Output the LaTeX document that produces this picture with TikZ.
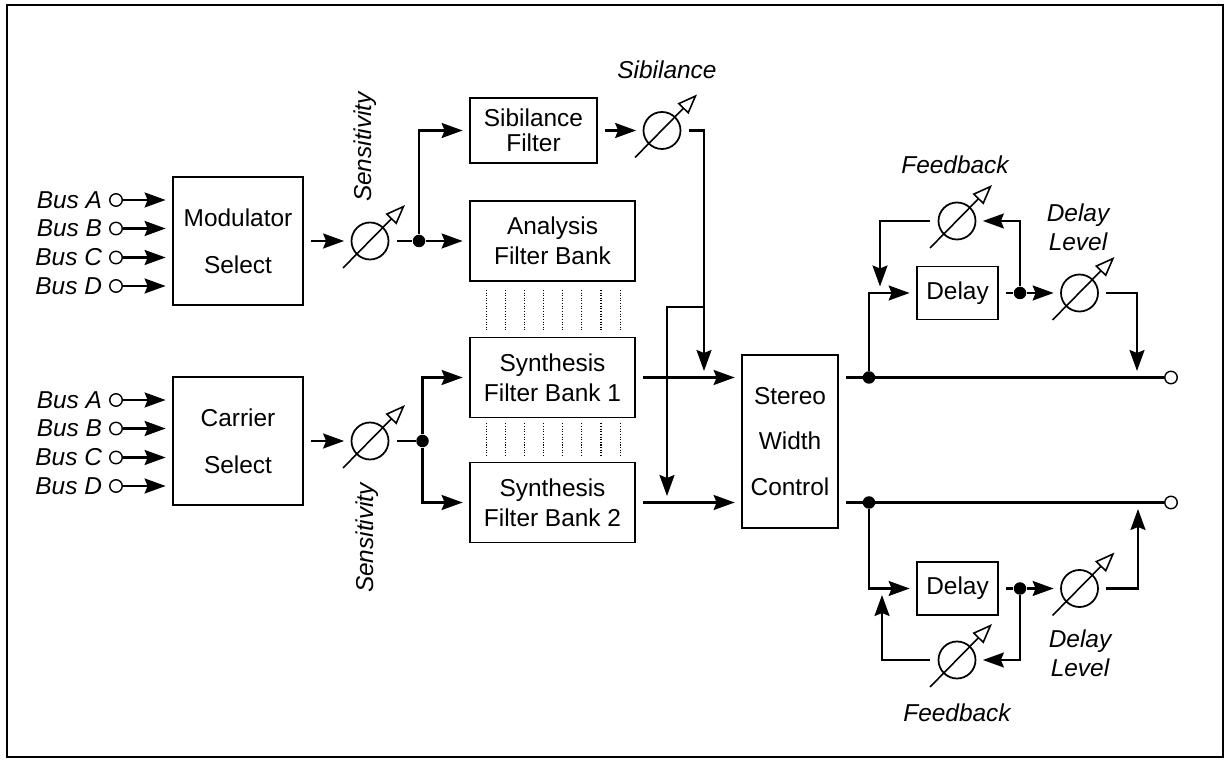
\documentclass[tikz,border=0pt]{standalone}
\usepackage{fontspec}
\setmainfont{Liberation Sans}
\usepackage{tikz}
\usetikzlibrary{positioning,arrows.meta,calc}

\begin{document}
\begin{tikzpicture}[
    sel/.style={
        draw,
        line width=1pt,
        minimum width=2.6cm,
        minimum height=2.56cm,
        inner sep=0pt,
        align=center,
        font=\fontsize{13.9}{27}\selectfont
    },
    bank/.style={
        draw,
        line width=1pt,
        minimum width=3.3cm,
        minimum height=1.6cm,
        inner sep=0pt,
        align=center,
        font=\fontsize{13.9}{17}\selectfont
    },
    sibbox/.style={
        draw,
        line width=1pt,
        minimum width=2.54cm,
        minimum height=1.3cm,
        inner sep=0pt,
        align=center,
        font=\fontsize{13.9}{14}\selectfont
    },
    stereo/.style={
        draw,
        line width=1pt,
        minimum width=1.92cm,
        minimum height=3.46cm,
        inner sep=0pt,
        align=center,
        font=\fontsize{13.9}{26}\selectfont
    },
    dly/.style={
        draw,
        line width=1pt,
        minimum width=1.62cm,
        minimum height=1.06cm,
        inner sep=0pt,
        font=\fontsize{13.9}{16}\selectfont
    },
    knob/.style={draw,circle,line width=1pt,minimum size=0.74cm,inner sep=0pt},
    dot/.style={circle,fill,inner sep=0pt,minimum size=0.25cm},
    port/.style={circle,draw,line width=0.8pt,fill=white,inner sep=0pt,minimum size=0.25cm},
    lab/.style={font=\fontsize{13.9}{16.4}\selectfont\itshape,align=center,inner sep=1pt},
    arr/.style={-{Stealth[length=4.2mm,width=3mm,inset=0.6mm]},line width=1.15pt,shorten >=0.13cm},
    wire/.style={line width=1.15pt},
    gap/.style={shorten <=0.15cm},
    adj/.style={line width=0.9pt,-{Triangle[open,length=4mm,width=3mm,fill=white]}},
    bankdots/.style={line width=0.6pt,dash pattern=on 0.6pt off 0.9pt}
]

\useasboundingbox (0,0) rectangle (24.62,15.24);
\draw[line width=1.3pt] (0.14,0.10) rectangle (24.46,15.14);

% ---------------------------------------------------------
% Sorgenti e blocchi di analisi / sintesi
% ---------------------------------------------------------

\node[sel] (mod) at (4.76,10.42) {Modulator\\Select};
\node[sel] (car) at (4.76,6.42) {Carrier\\Select};

\foreach \b/\dy in {A/0.82,B/0.25,C/-0.33,D/-0.90}{
    \node[port] (mb\b) at ($(mod.center)+(-2.44,\dy)$) {};
    \node[lab,left=0.1cm of mb\b] (mlab\b) {Bus \b};
    \draw[arr] (mb\b) -- (mb\b -| mod.west);
    \node[port] (cb\b) at ($(car.center)+(-2.44,\dy)$) {};
    \node[lab,left=0.1cm of cb\b] (clab\b) {Bus \b};
    \draw[arr] (cb\b) -- (cb\b -| car.west);
}

\node[knob] (sens1) at (7.40,10.42) {};
\node[knob] (sens2) at (7.40,6.42) {};
\node[lab,rotate=90] (senslab1) at (7.30,12.30) {Sensitivity};
\node[lab,rotate=90] (senslab2) at (7.34,4.48) {Sensitivity};

\node[dot] (sp1) at (8.38,10.42) {};
\node[dot] (sp2) at (8.45,6.42) {};

\node[sibbox] (sibf) at (10.67,12.63) {Sibilance\\Filter};
\node[knob] (sibk) at (13.24,12.63) {};
\node[lab] (siblab) at (13.34,13.84) {Sibilance};

\node[bank] (ana)  at (11.05,10.42) {Analysis\\Filter Bank};
\node[bank] (syn1) at (11.05,7.69) {Synthesis\\Filter Bank 1};
\node[bank] (syn2) at (11.05,5.19) {Synthesis\\Filter Bank 2};

\node[stereo] (stw) at (15.80,6.41) {Stereo\\Width\\Control};

\coordinate (sibsplit) at (14.08,9.10);
\coordinate (sibin1) at (14.08,7.69);
\coordinate (sibin2) at (13.34,5.19);

% ---------------------------------------------------------
% Linee di ritardo
% ---------------------------------------------------------

\node[dot] (tapA) at (17.38,7.69) {};
\node[dot] (tapB) at (17.38,5.19) {};
\node[port] (outA) at (23.42,7.69) {};
\node[port] (outB) at (23.42,5.19) {};

\node[dly] (dlyA) at (19.15,9.38) {Delay};
\node[dly] (dlyB) at (19.15,3.47) {Delay};
\node[dot] (odA) at (20.40,9.38) {};
\node[dot] (odB) at (20.40,3.47) {};
\node[knob] (lvlA) at (21.59,9.38) {};
\node[knob] (lvlB) at (21.59,3.47) {};
\node[knob] (fbA) at (19.14,10.82) {};
\node[knob] (fbB) at (19.14,2.04) {};

\node[lab] (fblabA) at (19.10,11.94) {Feedback};
\node[lab] (lvllabA) at (21.56,10.69) {Delay\\Level};
\node[lab] (lvllabB) at (21.60,2.18) {Delay\\Level};
\node[lab] (fblabB) at (19.14,0.98) {Feedback};

\coordinate (fjA) at (17.60,9.38);
\coordinate (fjB) at (17.64,3.47);
\coordinate (ljA) at (22.74,7.69);
\coordinate (ljB) at (22.76,5.19);

% ---------------------------------------------------------
% Flussi
% ---------------------------------------------------------

\draw[arr,gap] (mod) -- (sens1);
\draw[wire,gap] (sens1) -- (sp1);
\draw[arr] (sp1) -- (ana);
\draw[arr] (sp1) |- (sibf);

\draw[arr,gap] (car) -- (sens2);
\draw[wire,gap] (sens2) -- (sp2);
\draw[arr] (sp2) |- (syn1);
\draw[arr] (sp2) |- (syn2);

\foreach \i in {0,...,7}{
    \draw[bankdots]
    ([xshift={0.34cm+\i*0.383cm},yshift=-0.16cm]ana.south west) --
    ([xshift={0.34cm+\i*0.383cm},yshift=0.14cm]syn1.north west);
    \draw[bankdots]
    ([xshift={0.34cm+\i*0.383cm},yshift=-0.10cm]syn1.south west) --
    ([xshift={0.34cm+\i*0.383cm},yshift=0.12cm]syn2.north west);
}

\draw[arr,gap] (sibf) -- (sibk);
\draw[arr,gap] (sibk) -| (sibin1);
\draw[arr] (sibsplit) -| (sibin2);

\draw[arr,gap] (syn1) -- (syn1 -| stw.west);
\draw[arr,gap] (syn2) -- (syn2 -| stw.west);

\draw[wire,gap] (stw.east |- tapA) -- (outA);
\draw[wire,gap] (stw.east |- tapB) -- (outB);

\draw[arr] (tapA) |- (dlyA);
\draw[wire,gap] (dlyA) -- (odA);
\draw[arr] (odA) -- (lvlA);
\draw[arr,gap] (lvlA) -| (ljA);
\draw[arr] (odA) |- (fbA);
\draw[arr,gap] (fbA) -| (fjA);

\draw[arr] (tapB) |- (dlyB);
\draw[wire,gap] (dlyB) -- (odB);
\draw[arr] (odB) -- (lvlB);
\draw[arr,gap] (lvlB) -| (ljB);
\draw[arr] (odB) |- (fbB);
\draw[arr,gap] (fbB) -| (fjB);

\foreach \k in {sens1,sens2,sibk,fbA,lvlA,fbB,lvlB}
    \draw[adj] ($(\k)+(-0.54,-0.54)$) -- ($(\k)+(0.70,0.72)$);

\end{tikzpicture}
\end{document}
